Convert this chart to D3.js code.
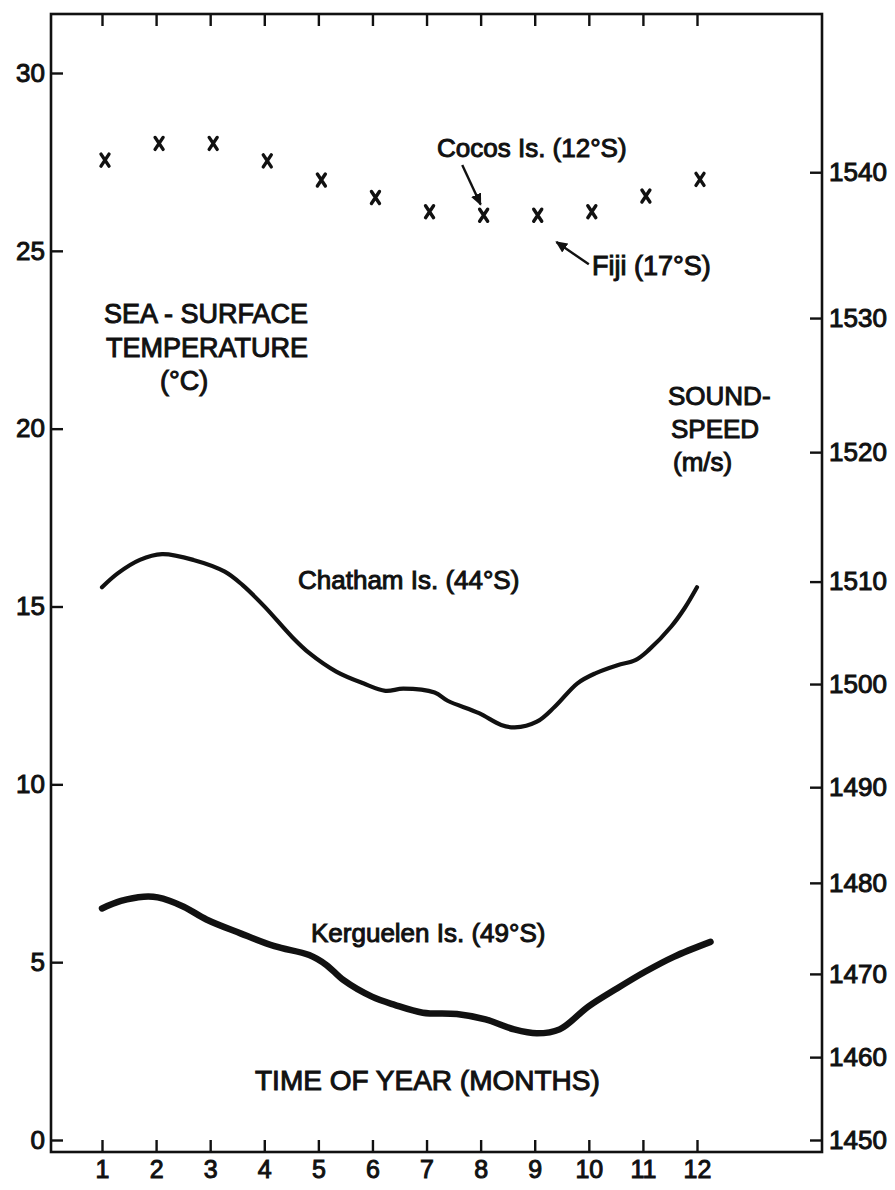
<!DOCTYPE html>
<html>
<head>
<meta charset="utf-8">
<script src="https://cdn.jsdelivr.net/npm/d3@7"></script>
<style>
  body { margin: 0; background: #fff; }
  svg { display: block; }
  text { font-family: "Liberation Sans", Arial, sans-serif; fill: #111; stroke: #111; stroke-width: 1px; }
</style>
</head>
<body>
<svg id="chart" width="895" height="1190"></svg>
<script>
// ---- data ----
const months = [1, 2, 3, 4, 5, 6, 7, 8, 9, 10, 11, 12];
const tempTicks = [0, 5, 10, 15, 20, 25, 30];
const soundTicks = [1450, 1460, 1470, 1480, 1490, 1500, 1510, 1520, 1530, 1540];
// sea-surface temperature (°C) equivalent to each sound-speed tick
const soundTickTemps = [0.0, 2.33, 4.67, 7.23, 9.92, 12.82, 15.7, 19.34, 23.11, 27.21];

// Cocos Is. / Fiji monthly mean temperature (°C)
const tropicalTemps = [27.55, 28.02, 28.02, 27.53, 26.99, 26.5, 26.1, 26.0, 26.0, 26.1, 26.54, 27.01];

// Chatham Is. (44°S) annual cycle
const chathamMonths = [1, 1.29, 1.7, 2.11, 2.69, 3.27, 3.6, 4.01, 4.51, 4.84, 5.33, 5.83, 6.24, 6.57,
  7.15, 7.39, 7.97, 8.38, 8.63, 9.04, 9.37, 9.79, 10.12, 10.53, 10.86, 11.11, 11.52, 11.77, 12.0];
const chathamTemps = [15.54, 15.93, 16.31, 16.47, 16.31, 15.98, 15.6, 14.99, 14.15, 13.68, 13.17, 12.84, 12.63, 12.69,
  12.58, 12.35, 12.0, 11.67, 11.6, 11.76, 12.18, 12.84, 13.12, 13.35, 13.49, 13.78, 14.43, 14.95, 15.54];

// Kerguelen Is. (49°S) annual cycle
const kerguelenMonths = [1, 1.35, 1.77, 2.03, 2.51, 2.93, 3.56, 4.19, 4.83, 5.15, 5.46, 5.99, 6.41, 6.93,
  7.56, 8.09, 8.62, 9.04, 9.46, 9.99, 10.52, 11.04, 11.57, 12.25];
const kerguelenTemps = [6.51, 6.72, 6.84, 6.82, 6.56, 6.2, 5.81, 5.45, 5.2, 4.92, 4.5, 4.03, 3.8, 3.58,
  3.54, 3.39, 3.11, 3.0, 3.11, 3.75, 4.26, 4.73, 5.15, 5.57];

// ---- layout ----
const frame = { left: 51, right: 822, top: 14, bottom: 1152 };
const svg = d3.select("#chart");
svg.append("rect").attr("width", 895).attr("height", 1190).attr("fill", "#fff");

const x = d3.scaleLinear().domain([1, 12]).range([102, 697]);
const y = d3.scaleLinear().domain([0, 30]).range([1140, 73]);

const ink = "#111";

// frame
svg.append("rect")
  .attr("x", frame.left).attr("y", frame.top)
  .attr("width", frame.right - frame.left).attr("height", frame.bottom - frame.top)
  .attr("fill", "none").attr("stroke", ink).attr("stroke-width", 2.6);

function styleAxis(g, size) {
  g.select(".domain").remove();
  g.selectAll(".tick line").attr("stroke", ink).attr("stroke-width", 2.4);
  g.selectAll(".tick text").attr("fill", ink).attr("font-size", size)
    .attr("font-family", "\"Liberation Sans\", Arial, sans-serif");
}

// left axis: temperature
svg.append("g").attr("transform", `translate(${frame.left},0)`)
  .call(d3.axisLeft(y).tickValues(tempTicks).tickSize(-12).tickPadding(6).tickFormat(d3.format("d")))
  .call(g => styleAxis(g, 26));

// right axis: sound speed
svg.append("g").attr("transform", `translate(${frame.right},0)`)
  .call(d3.axisRight(y).tickValues(soundTickTemps).tickSize(-12).tickPadding(7)
    .tickFormat((d, i) => soundTicks[i]))
  .call(g => styleAxis(g, 26));

// bottom axis: months
svg.append("g").attr("transform", `translate(0,${frame.bottom})`)
  .call(d3.axisBottom(x).tickValues(months).tickSize(-12).tickPadding(8).tickFormat(d3.format("d")))
  .call(g => styleAxis(g, 25));

// top axis: month ticks only
svg.append("g").attr("transform", `translate(0,${frame.top})`)
  .call(d3.axisTop(x).tickValues(months).tickSize(-12).tickFormat(""))
  .call(g => styleAxis(g, 25));

// curves
const line = d3.line()
  .x(d => x(d[0])).y(d => y(d[1]))
  .curve(d3.curveCatmullRom.alpha(0.5));

svg.append("path")
  .datum(d3.zip(chathamMonths, chathamTemps))
  .attr("d", line)
  .attr("fill", "none").attr("stroke", ink).attr("stroke-width", 4.2)
  .attr("stroke-linecap", "round").attr("stroke-linejoin", "round");

svg.append("path")
  .datum(d3.zip(kerguelenMonths, kerguelenTemps))
  .attr("d", line)
  .attr("fill", "none").attr("stroke", ink).attr("stroke-width", 6.5)
  .attr("stroke-linecap", "round").attr("stroke-linejoin", "round");

// cross marks
svg.append("g").selectAll("path")
  .data(d3.zip(months, tropicalTemps))
  .join("path")
  .attr("transform", d => `translate(${x(d[0]) + 3},${y(d[1])})`)
  .attr("d", "M-4,-6L4,6M4,-6L-4,6")
  .attr("stroke", ink).attr("stroke-width", 3.4).attr("stroke-linecap", "round");

// arrows
const defs = svg.append("defs");
defs.append("marker").attr("id", "head")
  .attr("viewBox", "0 0 10 10").attr("refX", 9).attr("refY", 5)
  .attr("markerWidth", 5).attr("markerHeight", 5).attr("orient", "auto")
  .append("path").attr("d", "M0,0.5L10,5L0,9.5Z").attr("fill", ink);

function arrow(m0, t0, m1, t1) {
  svg.append("line")
    .attr("x1", x(m0)).attr("y1", y(t0)).attr("x2", x(m1)).attr("y2", y(t1))
    .attr("stroke", ink).attr("stroke-width", 2.4).attr("marker-end", "url(#head)");
}
arrow(7.66, 27.41, 8.0, 26.3);
arrow(10.0, 24.62, 9.4, 25.25);

// labels
function label(txt, px, py, size) {
  svg.append("text").attr("x", px).attr("y", py)
    .attr("font-size", size)
    .attr("dominant-baseline", "middle")
    .text(txt);
}
label("Cocos Is. (12°S)", 437, 150, 26);
label("Fiji (17°S)", 592, 268, 27);
label("SEA - SURFACE", 104, 316, 27);
label("TEMPERATURE", 106, 350, 27);
label("(°C)", 160, 383, 27);
label("SOUND-", 668, 398, 26);
label("SPEED", 671, 431, 26);
label("(m/s)", 673, 464, 26);
label("Chatham Is. (44°S)", 298, 582, 26);
label("Kerguelen Is. (49°S)", 311, 935, 26);
label("TIME OF YEAR (MONTHS)", 255, 1083, 28);
</script>
</body>
</html>
